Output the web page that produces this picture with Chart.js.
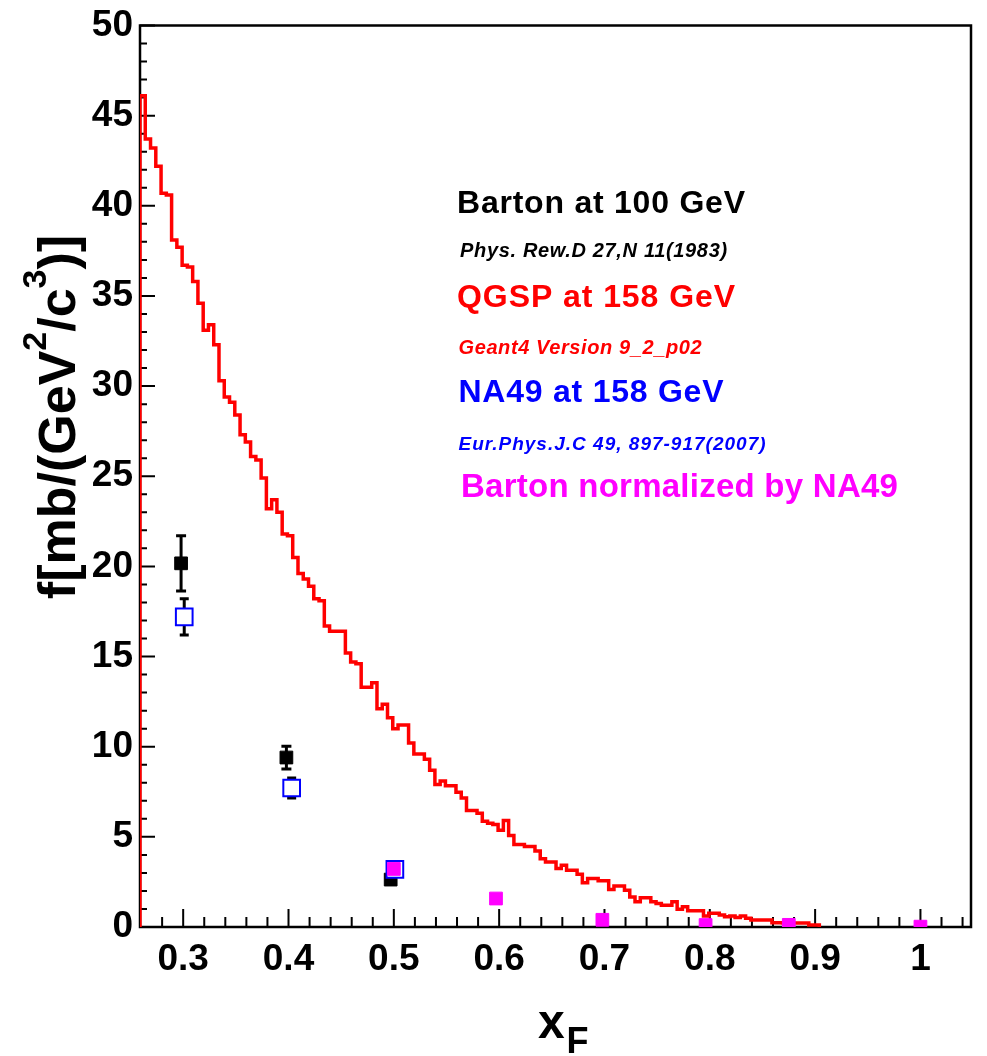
<!DOCTYPE html>
<html>
<head>
<meta charset="UTF-8">
<title>xF spectrum</title>
<script src="https://cdn.jsdelivr.net/npm/chart.js"></script>
<style>
  html, body { margin: 0; padding: 0; background: #fff; }
  #wrap { width: 987px; height: 1056px; }
</style>
</head>
<body>
<div id="wrap"><canvas id="chart" width="987" height="1056"></canvas></div>
<script>
// axis ranges and tick labels
const xRange = [0.259, 1.048];
const yRange = [0, 50];
const xTicks = [0.3, 0.4, 0.5, 0.6, 0.7, 0.8, 0.9, 1.0];
const yTicks = [0, 5, 10, 15, 20, 25, 30, 35, 40, 45, 50];

// QGSP at 158 GeV histogram (bins of 0.005 starting at histLow)
const histLow = 0.259;
const binWidth = 0.005;
const qgspValues = [
  46.1, 43.7, 43.2, 42.2, 40.7, 40.6, 38.1, 37.7, 36.7, 36.6, 35.8,
  34.6, 33.1, 33.4, 32.3, 30.3, 29.4, 29.1, 28.4, 27.3, 26.9, 26.1, 25.9,
  24.9, 23.2, 23.7, 23.0, 21.8, 21.7, 20.5, 19.6, 19.3, 18.9, 18.2, 18.1,
  16.7, 16.4, 16.4, 16.4, 15.2, 14.7, 14.6, 13.3, 13.3, 13.55, 12.1, 12.35,
  11.6, 11.0, 11.2, 11.2, 10.2, 9.6, 9.6, 9.3, 8.7, 7.9, 8.1,
  7.84, 7.84, 7.47, 7.16, 6.46, 6.46, 6.31, 5.87, 5.76, 5.69, 5.36, 5.91,
  5.08, 4.58, 4.58, 4.47, 4.47, 4.21, 3.79, 3.61, 3.61, 3.24, 3.42, 3.15,
  3.15, 2.93, 2.45, 2.69, 2.69, 2.56, 2.56, 2.08, 2.28, 2.28, 2.04, 1.67,
  1.40, 1.62, 1.62, 1.40, 1.30, 1.21, 1.21, 1.40, 0.98, 1.12, 0.90, 0.90,
  0.90, 0.61, 0.76, 0.76, 0.66, 0.57, 0.61, 0.53, 0.61, 0.48, 0.39, 0.39,
  0.39, 0.39, 0.24, 0.24, 0.22, 0.22, 0.22, 0.22, 0.22, 0.11, 0.11
];

// Barton at 100 GeV
const bartonX = [0.298, 0.398, 0.497];
const bartonY = [20.17, 9.40, 2.63];
const bartonErr = [1.53, 0.63, 0.15];

// NA49 at 158 GeV
const na49X = [0.301, 0.403, 0.501];
const na49Y = [17.2, 7.71, 3.2];
const na49Err = [1.0, 0.55, 0.15];

// Barton normalized by NA49
const normX = [0.5, 0.597, 0.698, 0.796, 0.875, 1.0];
const normY = [3.22, 1.58, 0.40, 0.11, 0.12, 0.02];

// legend lines
const legendText = [
  'Barton at 100 GeV',
  'Phys. Rew.D 27,N 11(1983)',
  'QGSP at 158 GeV',
  'Geant4 Version 9_2_p02',
  'NA49 at 158 GeV',
  'Eur.Phys.J.C 49, 897-917(2007)',
  'Barton normalized by NA49'
];
const legendColor = ['#000000', '#000000', '#ff0000', '#ff0000', '#0000ff', '#0000ff', '#ff00ff'];

const FONT = '"Liberation Sans", Arial, Helvetica, sans-serif';

// histogram outline as step points
function histPoints() {
  const pts = [{ x: histLow, y: 0 }];
  qgspValues.forEach((v, i) => pts.push({ x: histLow + i * binWidth, y: v }));
  const end = histLow + qgspValues.length * binWidth;
  pts.push({ x: end, y: qgspValues[qgspValues.length - 1] });
  pts.push({ x: end, y: 0 });
  return pts;
}

// vertical error bars, separated by gaps
function errPoints(xs, ys, es) {
  const pts = [];
  xs.forEach((x, i) => {
    pts.push({ x: x, y: ys[i] - es[i] });
    pts.push({ x: x, y: ys[i] + es[i] });
    pts.push({ x: x, y: null });
  });
  return pts;
}

function pts(xs, ys) {
  return xs.map((x, i) => ({ x: x, y: ys[i] }));
}

// frame and inside ticks (ROOT style)
const framePlugin = {
  id: 'frame',
  beforeDatasetsDraw(chart) {
    const { ctx, chartArea: a, scales } = chart;
    const xs = scales.x, ys = scales.y;
    ctx.save();
    ctx.strokeStyle = '#000';
    ctx.lineWidth = 2;
    ctx.beginPath();
    for (let i = Math.ceil(xRange[0] / 0.02); i * 0.02 <= xRange[1] + 1e-9; i++) {
      const v = i * 0.02;
      const px = xs.getPixelForValue(v);
      if (px - a.left < 3) continue;
      const major = i % 5 === 0;
      ctx.moveTo(px, a.bottom);
      ctx.lineTo(px, a.bottom - (major ? 18 : 10));
    }
    for (let v = yRange[0]; v <= yRange[1]; v++) {
      const py = ys.getPixelForValue(v);
      ctx.moveTo(a.left, py);
      ctx.lineTo(a.left + (v % 5 === 0 ? 15 : 7), py);
    }
    ctx.stroke();
    ctx.lineWidth = 2.5;
    ctx.strokeRect(a.left, a.top, a.right - a.left, a.bottom - a.top);
    ctx.restore();
  }
};

// fitted text drawing (ROOT text runs a bit wider than Arial)
function fitText(ctx, text, x, y, targetW) {
  const w = ctx.measureText(text).width;
  if ('letterSpacing' in ctx && text.length > 1) {
    ctx.letterSpacing = Math.max(0, (targetW - w) / (text.length - 1)).toFixed(2) + 'px';
    ctx.fillText(text, x, y);
    ctx.letterSpacing = '0px';
  } else {
    ctx.save();
    ctx.translate(x, y);
    ctx.scale(targetW / w, 1);
    ctx.fillText(text, 0, 0);
    ctx.restore();
  }
}

const textPlugin = {
  id: 'texts',
  afterDraw(chart) {
    const ctx = chart.ctx;
    ctx.save();
    ctx.textAlign = 'left';
    ctx.textBaseline = 'alphabetic';

    // legend block
    const spec = [
      ['bold 32px', 457, 212.5, 288],
      ['italic bold 20px', 460, 257, 267],
      ['bold 32px', 457, 306.5, 278],
      ['italic bold 20px', 458.5, 354, 243],
      ['bold 32px', 458.5, 401.5, 265],
      ['italic bold 19px', 458.5, 450, 307],
      ['bold 33px', 461, 497, 437]
    ];
    legendText.forEach((t, i) => {
      const s = spec[i];
      ctx.font = s[0] + ' ' + FONT;
      ctx.fillStyle = legendColor[i];
      fitText(ctx, t, s[1], s[2], s[3]);
    });

    // y title with superscripts, rotated
    ctx.fillStyle = '#000';
    const parts = [['f[mb/(GeV', 0], ['2', 1], ['/c', 0], ['3', 1], [')]', 0]];
    const big = 'bold 52px ' + FONT, small = 'bold 34px ' + FONT;
    let total = 0;
    parts.forEach(p => { ctx.font = p[1] ? small : big; total += ctx.measureText(p[0]).width; });
    ctx.translate(75, 417);
    ctx.rotate(-Math.PI / 2);
    let cx = -total / 2;
    parts.forEach(p => {
      ctx.font = p[1] ? small : big;
      ctx.fillText(p[0], cx, p[1] ? -29 : 0);
      cx += ctx.measureText(p[0]).width;
    });
    ctx.setTransform(1, 0, 0, 1, 0, 0);

    // x title x_F
    ctx.font = 'bold 48px ' + FONT;
    ctx.fillText('x', 538, 1038);
    ctx.font = 'bold 36px ' + FONT;
    ctx.fillText('F', 566.5, 1053);
    ctx.restore();
  }
};

const tickFont = { family: FONT, size: 37, weight: 'bold', lineHeight: 1 };

new Chart(document.getElementById('chart'), {
  type: 'scatter',
  data: {
    datasets: [
      {
        label: 'Barton normalized by NA49',
        data: pts(normX, normY),
        pointStyle: 'rect', pointRadius: 9, borderWidth: 1,
        backgroundColor: '#ff00ff', borderColor: '#ff00ff'
      },
      {
        label: 'NA49 at 158 GeV',
        data: pts(na49X, na49Y),
        pointStyle: 'rect', pointRadius: 11.8, borderWidth: 2,
        backgroundColor: '#ffffff', borderColor: '#0000ff'
      },
      {
        type: 'line', label: 'NA49 errors',
        data: errPoints(na49X, na49Y, na49Err),
        borderColor: '#000', borderWidth: 3, spanGaps: false,
        pointStyle: 'line', pointRadius: 4.5, pointBorderWidth: 3, pointBorderColor: '#000'
      },
      {
        label: 'Barton at 100 GeV',
        data: pts(bartonX, bartonY),
        pointStyle: 'rect', pointRadius: 9, borderWidth: 1,
        backgroundColor: '#000000', borderColor: '#000000'
      },
      {
        type: 'line', label: 'Barton errors',
        data: errPoints(bartonX, bartonY, bartonErr),
        borderColor: '#000', borderWidth: 3, spanGaps: false,
        pointStyle: 'line', pointRadius: 5, pointBorderWidth: 3, pointBorderColor: '#000'
      },
      {
        type: 'line', label: 'QGSP at 158 GeV',
        data: histPoints(),
        stepped: 'before',
        borderColor: '#ff0000', borderWidth: 3.5,
        pointRadius: 0, fill: false
      }
    ]
  },
  options: {
    responsive: false,
    animation: false,
    events: [],
    layout: { padding: { top: 21.5, right: 16, left: 0, bottom: 0 } },
    plugins: { legend: { display: false }, tooltip: { enabled: false } },
    scales: {
      x: {
        type: 'linear', min: xRange[0], max: xRange[1],
        grid: { display: false, drawTicks: false },
        border: { display: false },
        afterBuildTicks: s => { s.ticks = xTicks.map(v => ({ value: v })); },
        afterFit: s => { s.height = 129; },
        ticks: {
          font: tickFont, color: '#000', padding: 14,
          maxRotation: 0, autoSkip: false,
          callback: v => String(Number(v.toFixed(1)))
        }
      },
      y: {
        type: 'linear', min: yRange[0], max: yRange[1],
        grid: { display: false, drawTicks: false },
        border: { display: false },
        afterBuildTicks: s => { s.ticks = yTicks.map(v => ({ value: v })); },
        afterFit: s => { s.width = 140; },
        ticks: { font: tickFont, color: '#000', padding: 7, autoSkip: false }
      }
    }
  },
  plugins: [framePlugin, textPlugin]
});
</script>
</body>
</html>
